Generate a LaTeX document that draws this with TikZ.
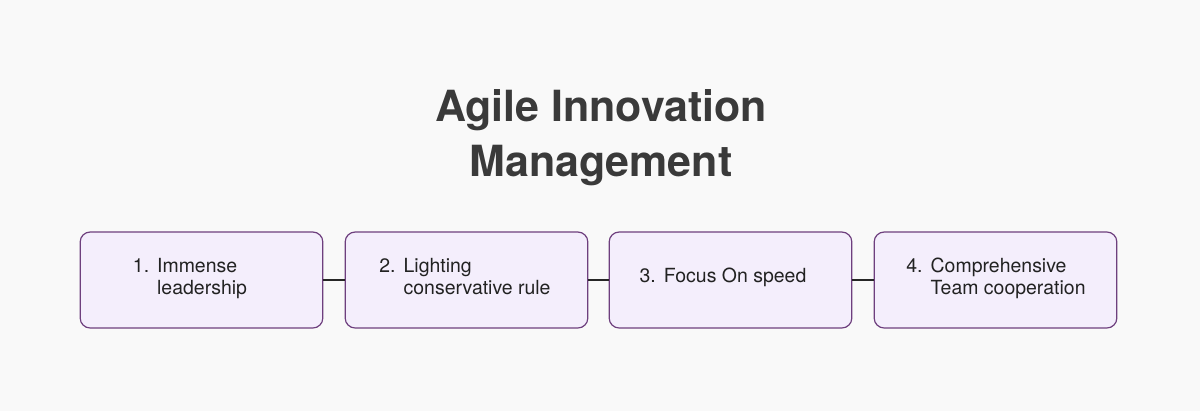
\documentclass[tikz,border=0pt]{standalone}
\usepackage{fontspec}
\setmainfont{TeX Gyre Heros}
\begin{document}
\begin{tikzpicture}[x=0.75pt,y=-0.75pt,
  stepbox/.style={draw=boxline,fill=boxfill,line width=0.9pt,rounded corners=7.5pt,minimum width=182pt,minimum height=72pt,inner sep=0pt},
  steptext/.style={font=\fontsize{14.6pt}{16.4pt}\selectfont,text=txt,inner sep=0pt},
  link/.style={draw=black!85,line width=0.8pt}]
\definecolor{bg}{HTML}{F9F9F9}
\definecolor{boxfill}{HTML}{F4EEFC}
\definecolor{boxline}{HTML}{6E3F7E}
\definecolor{txt}{HTML}{222222}
\definecolor{title}{HTML}{3A3A3A}
\fill[bg] (0,0) rectangle (1200,411);
\node[text=title,font=\bfseries\fontsize{32.2pt}{41pt}\selectfont,align=center] (t) at (601,138) {Agile Innovation\\Management};
\node[stepbox] (b1) at (201.5,280) {};
\node[stepbox] (b2) at (466.5,280) {};
\node[stepbox] (b3) at (730.5,280) {};
\node[stepbox] (b4) at (995.5,280) {};
\node[steptext] (l1) at (190,279) {\begin{tabular}{@{}l@{\hspace{6pt}}l@{}}1. & Immense\\ & leadership\end{tabular}};
\node[steptext] (l2) at (465,279) {\begin{tabular}{@{}l@{\hspace{6pt}}l@{}}2. & Lighting\\ & conservative rule\end{tabular}};
\node[steptext] (l3) at (723,278) {\begin{tabular}{@{}l@{\hspace{6pt}}l@{}}3. & Focus On speed\end{tabular}};
\node[steptext] (l4) at (996,279) {\begin{tabular}{@{}l@{\hspace{6pt}}l@{}}4. & Comprehensive\\ & Team cooperation\end{tabular}};
\draw[link] (b1.east) -- (b2.west);
\draw[link] (b2.east) -- (b3.west);
\draw[link] (b3.east) -- (b4.west);
\end{tikzpicture}
\end{document}
